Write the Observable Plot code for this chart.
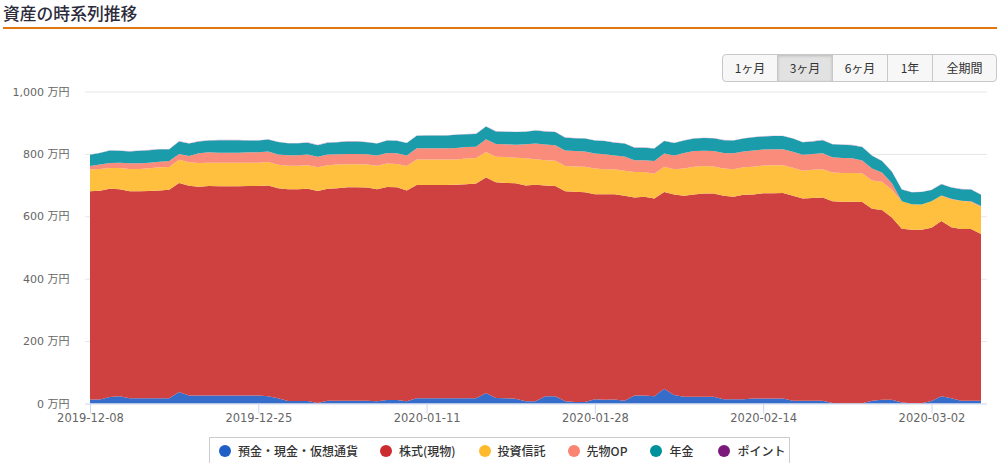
<!DOCTYPE html>
<html lang="ja">
<head>
<meta charset="utf-8">
<script src="https://cdn.jsdelivr.net/npm/d3@7"></script>
<script src="https://cdn.jsdelivr.net/npm/@observablehq/plot@0.6"></script>
<style>
html,body{margin:0;padding:0;background:#fff;width:1006px;height:463px;overflow:hidden;font-family:"DejaVu Sans","Noto Sans CJK JP",sans-serif;}
#wrap{position:relative;width:1006px;height:463px;overflow:hidden;}
#title{position:absolute;left:3px;top:0;width:994px;height:27px;border-bottom:2px solid #e0780f;font:500 16.8px/26px "Noto Sans CJK JP",sans-serif;color:#2b2b3b;white-space:nowrap;}
#btns{position:absolute;left:722px;top:54px;height:26px;display:flex;border:1px solid #c8c8c8;border-radius:4px;overflow:hidden;background:#f7f7f7;}
#btns div{box-sizing:border-box;height:26px;font:12px/26px "Noto Sans CJK JP",sans-serif;color:#333;text-align:center;border-left:1px solid #c8c8c8;}
#btns div:first-child{border-left:0;}
#btns div.on{background:#e2e2e2;box-shadow:inset 0 1px 3px rgba(0,0,0,.18);}
#chart{position:absolute;left:0;top:84px;}
#legend{position:absolute;left:209px;top:437px;width:581px;height:30px;border:1px solid #ccc;box-sizing:border-box;display:flex;align-items:center;background:#fff;font:500 12px/14px "Noto Sans CJK JP",sans-serif;color:#333;padding:0 0 2px 9px;white-space:nowrap;}
#legend span.i{display:flex;align-items:center;}
#legend i{display:inline-block;width:12px;height:12px;border-radius:50%;margin-right:7px;}
</style>
</head>
<body>
<div id="wrap">
<div id="title">資産の時系列推移</div>
<div id="btns"></div>
<div id="chart"></div>
<div id="legend"></div>
</div>
<script>
const titleRanges = ["1ヶ月","3ヶ月","6ヶ月","1年","全期間"];
const activeRange = "3ヶ月";
const rangeWidths = [54,55,55,45,64];

const seriesNames = ["預金・現金・仮想通貨","株式(現物)","投資信託","先物OP","年金","ポイント"];
const areaColors = ["#366dcb","#cf4040","#ffc040","#fa8c7c","#1a9caa","#c9a0c9"];
const legendColors = ["#1f5fc6","#cb2c2f","#ffb92d","#fa8371","#00919c","#7b1a7b"];
const legendGaps = [22,23,22,23,25,0];

const startDate = "2019-12-08";
const xTickDates = ["2019-12-08","2019-12-25","2020-01-11","2020-01-28","2020-02-14","2020-03-02"];
const yTicks = [0,200,400,600,800,1000];

const deposits = [
13,13,21,23,17,17,17,17,17,37,
26,26,26,26,26,26,26,26,23,17,
8,8,8,2,9,9,9,9,9,7,
11,11,7,17,17,17,17,17,17,17,
34,18,17,15,7,7,23,23,7,5,
5,14,12,13,9,26,26,23,47,27,
22,22,22,22,14,14,14,16,16,16,
16,9,9,9,9,2,1,1,1,9,
12,12,3,1,1,8,23,17,9,9,
9];
const stocks = [
667,669,667,664,663,663,664,666,668,670,
672,669,671,670,670,670,671,671,676,673,
679,679,680,679,679,681,684,684,683,680,
683,682,676,683,683,683,683,684,686,688,
690,691,690,691,692,694,676,674,673,674,
672,657,659,658,657,634,637,634,631,643,
644,648,651,651,652,649,655,654,658,658,
659,657,648,650,651,646,646,646,645,615,
608,584,557,556,556,555,562,548,550,550,
534];
const funds = [
70,70,67,68,72,72,73,74,73,74,
75,76,75,76,76,76,75,75,75,75,
75,75,76,76,76,76,74,74,74,75,
75,75,78,82,82,82,82,81,82,82,
82,82,83,82,87,82,81,81,81,81,
82,82,80,80,80,82,79,79,81,81,
87,89,88,87,87,88,88,89,89,90,
89,90,89,90,91,92,92,92,92,91,
91,89,88,82,81,85,81,89,91,87,
88];
const futures = [
11,14,16,17,18,18,18,18,19,19,
20,31,33,32,32,32,33,33,34,33,
34,34,34,34,34,33,33,33,33,33,
34,34,34,36,36,36,36,37,37,36,
41,41,41,41,45,50,50,50,50,49,
49,48,48,44,46,38,38,41,42,44,
50,50,49,49,50,51,51,52,51,51,
51,51,51,51,51,49,48,47,41,38,
29,21,0,0,0,0,1,2,0,2,
2];
const pension = [
36,37,40,38,38,40,40,40,38,40,
40,38,38,40,40,40,38,38,38,40,
38,38,38,37,38,38,40,40,38,38,
40,40,40,40,41,41,41,42,41,41,
41,40,40,41,40,42,42,42,41,41,
41,42,42,41,41,40,40,40,40,40,
40,40,41,41,41,41,41,42,42,42,
42,42,40,40,42,42,42,42,43,41,
37,37,38,38,40,36,36,36,37,38,
36];
const points = [
1,1,1,1,1,1,1,1,1,1,
1,1,1,1,1,1,1,1,1,1,
1,1,1,1,1,1,1,1,1,1,
1,1,1,1,1,1,1,1,1,1,
1,1,1,1,1,1,1,1,1,1,
1,1,1,1,1,1,1,1,1,1,
1,1,1,1,1,1,1,1,1,1,
1,1,1,1,1,1,1,1,1,1,
1,1,1,1,1,1,1,1,1,1,
1];

const allSeries = [deposits,stocks,funds,futures,pension,points];
const start = new Date(startDate+"T00:00:00Z");
const dateAt = i => d3.utcDay.offset(start,i);
const rows = allSeries.flatMap((vals,s)=>vals.map((v,i)=>({date:dateAt(i),series:seriesNames[s],value:v})));
const lastDate = dateAt(deposits.length-1);
const bodyFont = '"DejaVu Sans","Noto Sans CJK JP",sans-serif';

const plot = Plot.plot({
  width:1006, height:350,
  marginLeft:90, marginRight:25, marginTop:7.5, marginBottom:30.5,
  style:{fontFamily:bodyFont,fontSize:"11px",background:"transparent",overflow:"visible"},
  x:{type:"utc",domain:[start,lastDate]},
  y:{domain:[0,1000]},
  color:{domain:seriesNames,range:areaColors},
  marks:[
    Plot.ruleY(yTicks.filter(d=>d>0),{stroke:"#e6e6e6",strokeWidth:1,insetLeft:-5,insetRight:-6,strokeOpacity:1}),
    Plot.areaY(rows,{x:"date",y:"value",fill:"series",z:"series",curve:"linear"}),
    Plot.ruleY([0],{stroke:"#ccd6eb",strokeWidth:1,insetLeft:-5,insetRight:-6}),
    Plot.axisY({ticks:yTicks,tickSize:0,tickPadding:21,tickFormat:d=>d3.format(",")(d)+" 万円",color:"#666",label:null}),
    Plot.axisX({ticks:xTickDates.map(d=>new Date(d+"T00:00:00Z")),tickFormat:d3.utcFormat("%Y-%m-%d"),tickSize:10,tickPadding:0,stroke:"#ccd6eb",fill:"#666",fontSize:11.5,label:null})
  ]
});
document.getElementById("chart").appendChild(plot);

const btns = document.getElementById("btns");
titleRanges.forEach((t,i)=>{
  const d=document.createElement("div");
  d.textContent=t; d.style.width=rangeWidths[i]+"px";
  if(t===activeRange) d.className="on";
  btns.appendChild(d);
});
const legend = document.getElementById("legend");
seriesNames.forEach((n,i)=>{
  const s=document.createElement("span");
  s.className="i"; s.style.marginRight=legendGaps[i]+"px";
  const c=document.createElement("i"); c.style.background=legendColors[i];
  s.appendChild(c); s.appendChild(document.createTextNode(n));
  legend.appendChild(s);
});
</script>
</body>
</html>
